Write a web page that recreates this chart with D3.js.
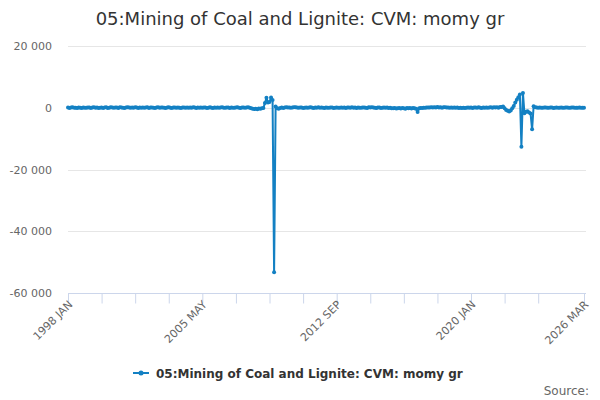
<!DOCTYPE html>
<html>
<head>
<meta charset="utf-8">
<script src="https://cdn.jsdelivr.net/npm/d3@7"></script>
<style>
  body { margin: 0; background: #fff; }
  svg { font-family: "DejaVu Sans", sans-serif; }
</style>
</head>
<body>
<div id="chart"></div>
<script>
// === DATA ===
const seriesName = "05:Mining of Coal and Lignite: CVM: momy gr";
const monthNames = ["JAN", "FEB", "MAR", "APR", "MAY", "JUN", "JUL", "AUG", "SEP", "OCT", "NOV", "DEC"];
const firstYear = 1998;
const values = [
    // 1998
    120, -80, 60, 150, -40, 30, -110, 90, 40, -60, 80, 20,
    // 1999
    -30, 110, 70, -90, 50, 130, -20, 60, -70, 40, 100, -50,
    // 2000
    80, 150, -60, 40, 200, 90, -30, 120, 60, -80, 140, 70,
    // 2001
    30, -100, 90, 180, 50, -40, 110, 20, 160, 70, -60, 90,
    // 2002
    40, 120, -30, 80, 150, -70, 60, 100, 20, -50, 90, 130,
    // 2003
    -40, 70, 110, 30, -90, 60, 140, 10, -60, 80, 50, -20,
    // 2004
    90, 30, -70, 120, 60, -40, 100, 20, 70, -30, 140, 50,
    // 2005
    -60, 80, 30, 110, -20, 60, 90, -50, 40, 130, 10, -80,
    // 2006
    70, 20, 100, -40, 60, 140, 30, -30, 90, 50, -70, 110,
    // 2007
    40, -20, 80, 160, 30, -60, 120, 60, -10, 90, 150, 40,
    // 2008
    -200, -350, -400, -300, -450, -250, -350, -150, -100, 1500, 3200, 1700,
    // 2009
    1900, 3300, 2500, -53300, 400, -200, -300, -100, 100, -50, 80, 150,
    // 2010
    60, 120, -40, 90, 200, 130, 50, -20, 110, 70, -60, 30,
    // 2011
    100, -30, 50, 140, 20, -80, 90, 40, 130, -40, 60, 20,
    // 2012
    -50, 80, 30, -20, 60, 110, -70, 40, 90, 10, -40, 70,
    // 2013
    30, 120, -60, 50, 90, -30, 140, 20, 60, -90, 80, 40,
    // 2014
    -20, 70, 110, 30, -50, 150, 60, 180, 90, 40, -60, 100,
    // 2015
    50, -70, 20, 90, -40, 60, -110, 30, -200, -150, -80, -250,
    // 2016
    -180, -100, -220, -60, -140, -300, -90, -200, -120, -250, -80, -160,
    // 2017
    -350, -1400, -200, -100, -60, 40, -30, 90, 120, 60, 150, 80,
    // 2018
    180, 100, 220, 90, 160, 40, 130, 200, 70, 110, -20, 60,
    // 2019
    30, 90, -40, 60, -90, 20, -60, 40, -100, 10, 70, -30,
    // 2020
    80, -50, 120, 60, -30, 150, 40, -80, 90, 20, 110, -40,
    // 2021
    60, 130, 30, 200, 90, 150, 40, 250, 250, 400, -200, -700,
    // 2022
    -1000, -1200, -900, -200, 600, 1700, 2600, 3400, 4300, -12600, 4800, -1800,
    // 2023
    -1300, -1100, -1500, -1900, -7000, 500, 200, 100, -40, 60, 30, -20,
    // 2024
    50, 90, -30, 40, 110, 60, -50, 20, 80, -10, 40, 70,
    // 2025
    30, -40, 60, 100, 20, -20, 50, 80, -30, 40, 10, 60,
    // 2026
    20, -10, 30
];
const categories = values.map((v, i) => (firstYear + Math.floor(i / 12)) + " " + monthNames[i % 12]);
const tickLabels = ["1998 JAN", "2005 MAY", "2012 SEP", "2020 JAN", "2026 MAR"];
const yTicks = [20000, 0, -20000, -40000, -60000];

// === LAYOUT ===
const width = 600, height = 400;
const plotLeft = 68, plotRight = 584, plotTop = 46, plotBottom = 293;
const lineColor = "#1380c3";

const svg = d3.select("#chart").append("svg")
    .attr("width", width)
    .attr("height", height);

const x = d3.scalePoint()
    .domain(categories)
    .range([plotLeft, plotRight]);

const y = d3.scaleLinear()
    .domain([-60000, 20000])
    .range([plotBottom, plotTop]);

const fmt = d3.formatLocale({ decimal: ".", thousands: " ", grouping: [3], currency: ["", ""], minus: "-" }).format(",");

// Title
svg.append("text")
    .attr("x", 300)
    .attr("y", 25)
    .attr("text-anchor", "middle")
    .attr("font-size", "18px")
    .attr("fill", "#333")
    .text(seriesName);

// Grid lines + y labels
svg.append("g")
    .selectAll("line")
    .data(yTicks.filter(d => d !== -60000))
    .join("line")
    .attr("x1", plotLeft)
    .attr("x2", plotRight + 2)
    .attr("y1", d => Math.round(y(d)) + 0.5)
    .attr("y2", d => Math.round(y(d)) + 0.5)
    .attr("stroke", "#e6e6e6");

svg.append("g")
    .selectAll("text")
    .data(yTicks)
    .join("text")
    .attr("x", 52)
    .attr("y", d => y(d) + 4)
    .attr("text-anchor", "end")
    .attr("font-size", "11px")
    .attr("fill", "#666")
    .text(d => fmt(d));

// X axis: ticks every 22 months plus last month
const tickCats = categories.filter((c, i) => i % 22 === 0 && i <= 308).concat([categories[categories.length - 1]]);
const xAxis = d3.axisBottom(x)
    .tickValues(tickCats)
    .tickSize(10)
    .tickFormat(d => tickLabels.includes(d) ? d : "");

const gx = svg.append("g")
    .attr("transform", `translate(0,${plotBottom + 0.5})`)
    .call(xAxis);
gx.select(".domain")
    .attr("d", `M${plotLeft},0H${plotRight + 2}`)
    .attr("stroke", "#ccd6eb");
gx.selectAll(".tick line").attr("stroke", "#ccd6eb");
gx.selectAll(".tick text")
    .attr("font-size", "11px")
    .attr("font-family", "DejaVu Sans, sans-serif")
    .attr("fill", "#666")
    .attr("text-anchor", "end")
    .attr("transform", "translate(2,9) rotate(-45)")
    .attr("dy", "0.35em")
    .attr("y", 0)
    .attr("x", 0);

// Line
const line = d3.line()
    .x((d, i) => x(categories[i]))
    .y(d => y(d));

svg.append("path")
    .datum(values)
    .attr("fill", "none")
    .attr("stroke", lineColor)
    .attr("stroke-width", 2)
    .attr("stroke-linejoin", "round")
    .attr("d", line);

svg.append("g")
    .selectAll("circle")
    .data(values)
    .join("circle")
    .attr("cx", (d, i) => x(categories[i]))
    .attr("cy", d => y(d))
    .attr("r", 2)
    .attr("fill", lineColor);

// Legend
const lg = svg.append("g").attr("transform", "translate(133,373)");
lg.append("line")
    .attr("x1", 0).attr("x2", 16)
    .attr("y1", 0).attr("y2", 0)
    .attr("stroke", lineColor)
    .attr("stroke-width", 2);
lg.append("circle")
    .attr("cx", 8).attr("cy", 0).attr("r", 2.5)
    .attr("fill", lineColor);
lg.append("text")
    .attr("x", 23)
    .attr("y", 4.5)
    .attr("font-size", "12px")
    .attr("font-weight", "bold")
    .attr("fill", "#333")
    .text(seriesName);

// Credits
svg.append("text")
    .attr("x", 589)
    .attr("y", 395)
    .attr("text-anchor", "end")
    .attr("font-size", "12px")
    .attr("fill", "#666")
    .text("Source:");
</script>
</body>
</html>
